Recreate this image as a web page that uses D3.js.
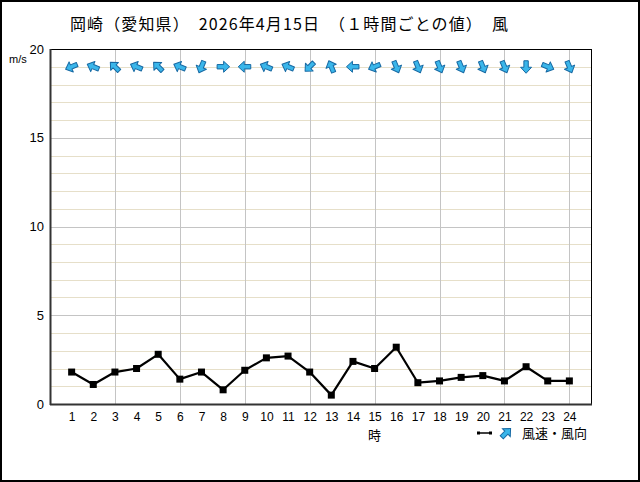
<!DOCTYPE html>
<html><head><meta charset="utf-8">
<script src="https://cdn.jsdelivr.net/npm/d3@7"></script>
<style>
html,body{margin:0;padding:0;background:#fff;}
svg{display:block;}
text{font-family:"Liberation Sans","Noto Sans CJK JP",sans-serif;}
.jp{font-family:"Noto Sans CJK JP","Liberation Sans",sans-serif;}
</style></head>
<body>
<script>
const titleText = "岡崎（愛知県）　2026年4月15日　（１時間ごとの値）　風";
const hours = [1,2,3,4,5,6,7,8,9,10,11,12,13,14,15,16,17,18,19,20,21,22,23,24];
const speed = [1.8,1.1,1.8,2.0,2.8,1.4,1.8,0.8,1.9,2.6,2.7,1.8,0.5,2.4,2.0,3.2,1.2,1.3,1.5,1.6,1.3,2.1,1.3,1.3];
const windFrom = ["東北東","東南東","南東","東南東","南東","東南東","北北東","西","東","東南東","東南東","北東","南南東","東","東北東","北北西","北北西","北北西","北北西","北北西","北北西","北","西北西","北北西"];
const compass16 = ["北","北北東","北東","東北東","東","東南東","南東","南南東","南","南南西","南西","西南西","西","西北西","北西","北北西"];
const yTicks = [0,5,10,15,20];
const vGridHours = [3,6,9,12,15,18,21,24];

(function(){
const W = 640, H = 482;
const svg = d3.select("body").append("svg").attr("width", W).attr("height", H);
svg.append("rect").attr("x",1).attr("y",1).attr("width",W-2).attr("height",H-2)
  .attr("fill","#fff").attr("stroke","#000").attr("stroke-width",2);

const pL = 50, pR = 591, pT = 49, pB = 404;
const x = d3.scaleLinear().domain([0,25]).range([pL,pR]);
const y = d3.scaleLinear().domain([0,20]).range([pB,pT]);

const g = svg.append("g");
g.selectAll("line.minor").data(d3.range(1,20).filter(v=>v%5!==0)).join("line")
  .attr("x1",pL).attr("x2",pR).attr("y1",d=>Math.round(y(d))+0.5).attr("y2",d=>Math.round(y(d))+0.5)
  .attr("stroke","#e6dfc9").attr("stroke-width",1);
g.selectAll("line.major").data(yTicks.filter(v=>v>0&&v<20)).join("line")
  .attr("x1",pL).attr("x2",pR).attr("y1",d=>Math.round(y(d))+0.5).attr("y2",d=>Math.round(y(d))+0.5)
  .attr("stroke","#c4c4c4").attr("stroke-width",1);
g.selectAll("line.v").data(vGridHours).join("line")
  .attr("x1",d=>Math.round(x(d))+0.5).attr("x2",d=>Math.round(x(d))+0.5).attr("y1",pT).attr("y2",pB)
  .attr("stroke","#c4c4c4").attr("stroke-width",1);

svg.append("rect").attr("x",pL+0.5).attr("y",pT+0.5).attr("width",pR-pL).attr("height",pB-pT)
  .attr("fill","none").attr("stroke","#000").attr("stroke-width",1);
svg.append("line").attr("x1",pL+0.5).attr("x2",pL+0.5).attr("y1",pT).attr("y2",pB+1).attr("stroke","#333").attr("stroke-width",2);
svg.append("line").attr("x1",pL).attr("x2",pR+1).attr("y1",pB+0.5).attr("y2",pB+0.5).attr("stroke","#333").attr("stroke-width",2);

const yAxis = d3.axisLeft(y).tickValues(yTicks).tickSize(0).tickPadding(6);
const ya = svg.append("g").attr("transform",`translate(${pL},0)`).call(yAxis);
ya.select(".domain").remove();
ya.selectAll("text").attr("font-size",13).attr("fill","#000")
  .style("font-family","'Liberation Sans',sans-serif");
svg.append("text").attr("x",9).attr("y",63).attr("font-size",11).text("m/s");

const xAxis = d3.axisBottom(x).tickValues(hours).tickSize(0).tickPadding(8).tickFormat(d3.format("d"));
const xa = svg.append("g").attr("transform",`translate(0,${pB})`).call(xAxis);
xa.select(".domain").remove();
xa.selectAll("text").attr("font-size",12).attr("fill","#000")
  .style("font-family","'Liberation Sans',sans-serif");
svg.append("text").attr("class","jp").attr("x",x(15)).attr("y",440).attr("text-anchor","middle")
  .attr("font-size",13).text("時");

svg.append("text").attr("class","jp").attr("x",70).attr("y",30)
  .attr("font-size",16).attr("textLength",438).attr("lengthAdjust","spacing").text(titleText);

const line = d3.line().x((d,i)=>x(hours[i])).y(d=>y(d));
svg.append("path").datum(speed).attr("d",line).attr("fill","none")
  .attr("stroke","#000").attr("stroke-width",2.2).attr("stroke-linejoin","round");
svg.selectAll("rect.pt").data(speed).join("rect")
  .attr("x",(d,i)=>x(hours[i])-3.5).attr("y",d=>y(d)-3.5).attr("width",7).attr("height",7).attr("fill","#000");

const arrowPath = "M0,-6.5 L5.5,-0.5 L2.2,-0.5 L2.2,6 L-2.2,6 L-2.2,-0.5 L-5.5,-0.5 Z";
function toAngle(from){ return (compass16.indexOf(from)*22.5 + 180) % 360; }
svg.selectAll("path.arr").data(windFrom).join("path")
  .attr("d",arrowPath)
  .attr("transform",(d,i)=>`translate(${x(hours[i])},${y(19)}) rotate(${toAngle(d)})`)
  .attr("fill","#3ab6ea").attr("stroke","#1769a3").attr("stroke-width",1).attr("stroke-linejoin","round");

const ly = 433;
svg.append("line").attr("x1",478).attr("x2",490).attr("y1",ly).attr("y2",ly).attr("stroke","#000").attr("stroke-width",1.5);
svg.append("rect").attr("x",477).attr("y",ly-1.5).attr("width",3).attr("height",3).attr("fill","#000");
svg.append("rect").attr("x",489).attr("y",ly-1.5).attr("width",3).attr("height",3).attr("fill","#000");
svg.append("path").attr("d",arrowPath).attr("transform",`translate(506,${ly}) rotate(45)`)
  .attr("fill","#3ab6ea").attr("stroke","#1769a3").attr("stroke-width",1);
svg.append("text").attr("class","jp").attr("x",522).attr("y",ly+5).attr("font-size",13).text("風速・風向");
})();
</script>
</body></html>
